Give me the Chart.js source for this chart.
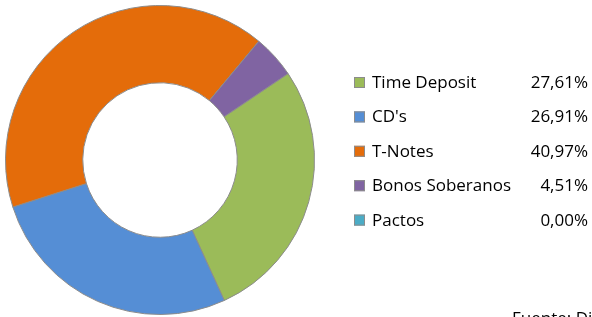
<!DOCTYPE html>
<html>
<head>
<meta charset="utf-8">
<script src="https://cdn.jsdelivr.net/npm/chart.js@4"></script>
<style>
  html, body { margin: 0; padding: 0; background: #fff; }
  #wrap { position: relative; width: 592px; height: 317px; overflow: hidden; }
</style>
</head>
<body>
<div id="wrap"><canvas id="chart" width="592" height="317"></canvas></div>
<script>
// Data
const labels = ["Time Deposit", "CD's", "T-Notes", "Bonos Soberanos", "Pactos"];
const shares = [27.61, 26.91, 40.97, 4.51, 0.00];
const colors = ["#9BBB59", "#558ED5", "#E46C0A", "#8064A2", "#4BACC6"];
const sourceNote = "Fuente: Dir";

const FONT = '"Open Sans", "DejaVu Sans", sans-serif';

// Legend with percentages on the right, drawn on the canvas
const sideLegend = {
  id: "sideLegend",
  afterDraw(chart) {
    const ctx = chart.ctx;
    const ds = chart.data.datasets[0];
    ctx.save();
    ctx.font = "17px " + FONT;
    ctx.textBaseline = "alphabetic";
    chart.data.labels.forEach((lab, i) => {
      const base = 88 + i * 34.4;
      // colour box
      ctx.fillStyle = ds.backgroundColor[i];
      ctx.fillRect(354, base - 11, 11, 11);
      ctx.strokeStyle = "#8C8C8C";
      ctx.lineWidth = 1;
      ctx.strokeRect(354.5, base - 10.5, 10, 10);
      // label
      ctx.fillStyle = "#000";
      ctx.textAlign = "left";
      ctx.fillText(lab, 372, base);
      // share
      ctx.textAlign = "right";
      ctx.fillText(ds.data[i].toFixed(2).replace(".", ",") + "%", 588, base);
    });
    ctx.textAlign = "left";
    ctx.fillText(sourceNote, 512, 324);
    ctx.restore();
  }
};

new Chart(document.getElementById("chart"), {
  type: "doughnut",
  data: {
    labels: labels,
    datasets: [{
      data: shares,
      backgroundColor: colors,
      borderColor: "#8C8C8C",
      borderWidth: 1,
      hoverBorderWidth: 1
    }]
  },
  options: {
    responsive: false,
    animation: false,
    rotation: 56,
    cutout: "50%",
    layout: { padding: { left: 5, top: 5, right: 277, bottom: 2 } },
    plugins: {
      legend: { display: false },
      tooltip: { enabled: false }
    }
  },
  plugins: [sideLegend]
});
</script>
</body>
</html>
